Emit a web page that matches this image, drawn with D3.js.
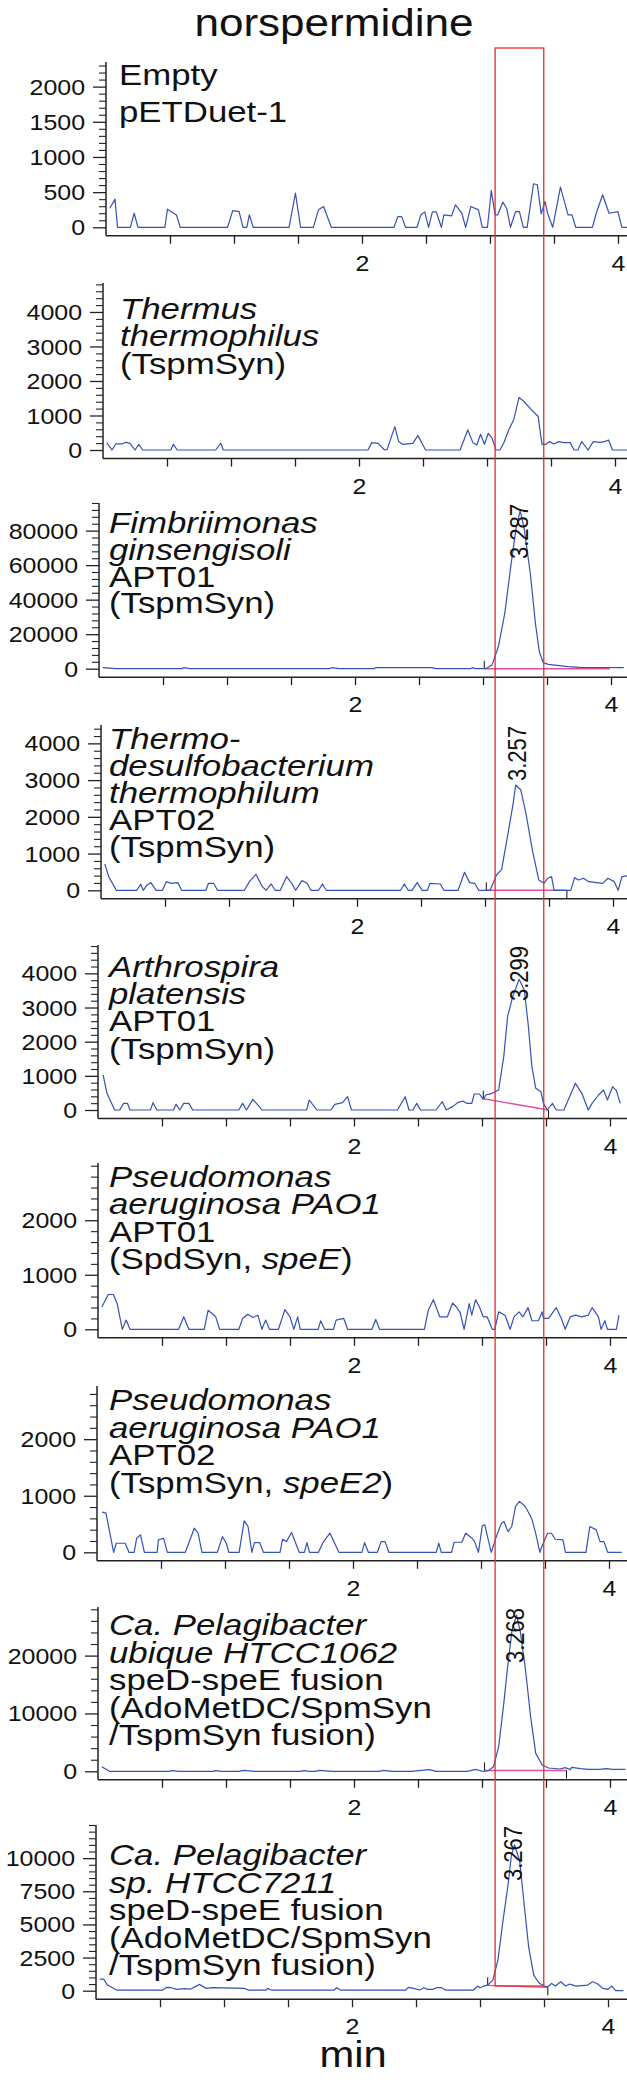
<!DOCTYPE html>
<html><head><meta charset="utf-8">
<script src="https://cdn.jsdelivr.net/npm/d3@7"></script>
<style>body{margin:0;background:#fff}svg{display:block}text{white-space:pre}</style>
</head><body><svg id="c" width="627" height="2084"></svg>
<script>
// ---------- data ----------
const title = "norspermidine";
const xLabel = "min";
const xTickValues = [0.5, 1, 1.5, 2, 2.5, 3, 3.5, 4];
const xTickLabelValues = [2, 4];
const highlightWindow = [3.04, 3.42]; // minutes, in panel-1 time scale

const yTicks1 = [0, 500, 1000, 1500, 2000];
const yTicks2 = [0, 1000, 2000, 3000, 4000];
const yTicks3 = [0, 20000, 40000, 60000, 80000];
const yTicks4 = [0, 1000, 2000, 3000, 4000];
const yTicks5 = [0, 1000, 2000, 3000, 4000];
const yTicks6 = [0, 1000, 2000];
const yTicks7 = [0, 1000, 2000];
const yTicks8 = [0, 10000, 20000];
const yTicks9 = [0, 2500, 5000, 7500, 10000];

const label1 = [[["Empty",0]],[["pETDuet-1",0]]];
const label2 = [[["Thermus",1]],[["thermophilus",1]],[["(TspmSyn)",0]]];
const label3 = [[["Fimbriimonas",1]],[["ginsengisoli",1]],[["APT01",0]],[["(TspmSyn)",0]]];
const label4 = [[["Thermo-",1]],[["desulfobacterium",1]],[["thermophilum",1]],[["APT02",0]],[["(TspmSyn)",0]]];
const label5 = [[["Arthrospira",1]],[["platensis",1]],[["APT01",0]],[["(TspmSyn)",0]]];
const label6 = [[["Pseudomonas",1]],[["aeruginosa PAO1",1]],[["APT01",0]],[["(SpdSyn, ",0],["speE",1],[")",0]]];
const label7 = [[["Pseudomonas",1]],[["aeruginosa PAO1",1]],[["APT02",0]],[["(TspmSyn, ",0],["speE2",1],[")",0]]];
const label8 = [[["Ca. Pelagibacter",1]],[["ubique HTCC1062",1]],[["speD-speE fusion",0]],[["(AdoMetDC/SpmSyn",0]],[["/TspmSyn fusion)",0]]];
const label9 = [[["Ca. Pelagibacter",1]],[["sp. HTCC7211",1]],[["speD-speE fusion",0]],[["(AdoMetDC/SpmSyn",0]],[["/TspmSyn fusion)",0]]];

const trace1 = [[0.03,270],[0.07,400],[0.09,0],[0.19,0],[0.22,200],[0.25,0],[0.46,0],[0.48,257],[0.55,176],[0.58,0],[0.95,0],[0.99,238],[1.04,224],[1.07,0],[1.10,0],[1.12,176],[1.15,0],[1.43,0],[1.48,485],[1.52,0],[1.62,0],[1.66,248],[1.70,295],[1.76,0],[2.25,0],[2.28,152],[2.31,152],[2.34,0],[2.43,0],[2.46,176],[2.49,219],[2.52,0],[2.55,219],[2.58,219],[2.62,0],[2.64,176],[2.70,162],[2.73,319],[2.78,200],[2.81,0],[2.85,295],[2.91,248],[2.94,0],[2.98,0],[3.01,524],[3.04,176],[3.06,176],[3.10,357],[3.13,271],[3.16,0],[3.20,224],[3.23,224],[3.26,0],[3.29,0],[3.34,619],[3.37,605],[3.40,190],[3.43,367],[3.45,200],[3.49,0],[3.55,571],[3.61,176],[3.64,176],[3.67,0],[3.80,0],[3.83,200],[3.88,462],[3.93,200],[4.00,224],[4.03,0],[4.10,0]];
const trace2 = [[0.03,213],[0.07,0],[0.10,175],[0.15,175],[0.18,223],[0.21,194],[0.25,0],[0.28,165],[0.31,0],[0.53,0],[0.55,165],[0.58,0],[0.88,0],[0.92,194],[0.94,0],[2.07,0],[2.10,213],[2.15,194],[2.20,0],[2.22,19],[2.28,679],[2.31,243],[2.34,165],[2.42,194],[2.46,417],[2.52,0],[2.79,0],[2.85,582],[2.89,213],[2.92,146],[2.95,456],[2.98,165],[3.01,485],[3.04,340],[3.07,0],[3.10,0],[3.13,194],[3.17,582],[3.21,892],[3.25,1523],[3.29,1406],[3.34,1193],[3.40,970],[3.41,679],[3.43,165],[3.46,165],[3.49,243],[3.52,175],[3.56,243],[3.60,213],[3.65,213],[3.68,0],[3.71,0],[3.74,243],[3.79,0],[3.83,243],[3.88,223],[3.92,243],[3.95,291],[3.98,0],[4.10,0]];
const trace3 = [[0.03,600],[0.13,0],[0.65,0],[0.66,600],[0.71,0],[1.80,0],[1.82,600],[1.87,0],[2.15,0],[2.16,600],[2.60,600],[2.63,0],[2.90,0],[2.92,600],[2.94,0],[3.02,0],[3.07,2100],[3.12,12700],[3.17,32000],[3.22,61000],[3.26,82000],[3.29,91500],[3.32,82000],[3.37,55000],[3.41,26000],[3.44,9800],[3.47,3500],[3.51,2500],[3.58,1900],[3.66,1150],[3.76,770],[4.10,600]];
const trace4 = [[0.03,717],[0.06,372],[0.12,0],[0.28,0],[0.31,163],[0.33,0],[0.36,145],[0.39,209],[0.43,0],[0.48,0],[0.51,236],[0.55,190],[0.60,209],[0.63,0],[0.82,0],[0.84,190],[0.88,190],[0.91,0],[1.12,0],[1.16,236],[1.21,435],[1.26,100],[1.29,0],[1.33,172],[1.36,0],[1.40,0],[1.45,372],[1.49,190],[1.52,0],[1.57,263],[1.61,190],[1.64,0],[1.70,0],[1.73,172],[1.76,0],[2.34,0],[2.37,172],[2.40,0],[2.43,0],[2.47,209],[2.51,0],[2.55,0],[2.57,190],[2.65,172],[2.68,0],[2.79,0],[2.84,490],[2.88,209],[2.92,190],[2.95,0],[3.04,0],[3.09,417],[3.13,571],[3.18,1551],[3.22,2367],[3.24,2866],[3.28,2730],[3.32,2095],[3.37,1097],[3.42,281],[3.46,190],[3.49,327],[3.52,372],[3.54,0],[3.67,0],[3.70,345],[3.73,281],[3.77,327],[3.81,236],[3.87,209],[3.92,190],[3.96,327],[4.01,236],[4.04,0],[4.07,372],[4.12,400]];
const trace5 = [[0.04,1025],[0.07,488],[0.13,0],[0.17,0],[0.20,195],[0.23,195],[0.25,0],[0.41,0],[0.43,215],[0.46,0],[0.59,0],[0.61,166],[0.64,0],[0.67,195],[0.71,195],[0.74,0],[1.10,0],[1.13,195],[1.16,0],[1.21,312],[1.26,98],[1.28,0],[1.63,0],[1.65,293],[1.69,98],[1.71,0],[1.82,0],[1.85,166],[1.91,215],[1.95,390],[1.98,0],[2.34,0],[2.40,390],[2.43,0],[2.46,0],[2.49,195],[2.52,0],[2.64,0],[2.69,244],[2.72,0],[2.77,98],[2.81,215],[2.85,264],[2.88,195],[2.92,195],[2.94,468],[2.98,468],[3.01,312],[3.03,439],[3.08,488],[3.13,585],[3.17,1561],[3.20,2733],[3.24,3318],[3.29,3826],[3.33,3513],[3.36,2538],[3.39,1269],[3.42,634],[3.46,537],[3.48,195],[3.51,0],[3.55,195],[3.58,0],[3.64,0],[3.73,781],[3.78,488],[3.83,0],[3.86,195],[3.91,439],[3.95,585],[3.98,293],[4.02,683],[4.05,566],[4.08,195]];
const trace6 = [[0.03,409],[0.08,638],[0.12,638],[0.15,470],[0.19,0],[0.22,169],[0.25,0],[0.63,0],[0.67,229],[0.71,0],[0.83,0],[0.86,349],[0.92,229],[0.95,0],[1.10,0],[1.13,199],[1.17,277],[1.21,217],[1.25,259],[1.28,0],[1.31,169],[1.34,0],[1.41,0],[1.46,361],[1.50,229],[1.53,0],[1.56,229],[1.58,0],[1.72,0],[1.74,157],[1.77,0],[1.84,0],[1.86,169],[1.92,199],[1.95,0],[2.14,0],[2.17,181],[2.20,0],[2.55,0],[2.58,349],[2.62,542],[2.67,229],[2.73,229],[2.77,482],[2.80,409],[2.83,301],[2.86,0],[2.90,470],[2.92,259],[2.95,542],[2.98,409],[3.01,229],[3.04,229],[3.08,0],[3.10,0],[3.13,319],[3.18,259],[3.22,0],[3.25,229],[3.29,319],[3.32,229],[3.36,397],[3.39,157],[3.44,157],[3.47,319],[3.48,199],[3.52,199],[3.58,397],[3.62,199],[3.65,0],[3.69,229],[3.73,259],[3.78,229],[3.83,259],[3.86,397],[3.91,229],[3.93,0],[3.96,157],[3.98,0],[4.05,0],[4.07,259]];
const trace7 = [[0.04,710],[0.07,693],[0.13,0],[0.15,160],[0.22,160],[0.25,0],[0.29,0],[0.31,249],[0.34,308],[0.37,0],[0.47,0],[0.48,219],[0.52,249],[0.55,0],[0.69,0],[0.76,426],[0.79,337],[0.82,0],[0.94,0],[0.98,278],[1.01,160],[1.03,0],[1.11,0],[1.15,556],[1.18,456],[1.21,0],[1.23,172],[1.27,172],[1.30,0],[1.43,0],[1.45,231],[1.48,189],[1.52,349],[1.55,172],[1.58,0],[1.62,0],[1.64,172],[1.66,0],[1.73,0],[1.77,189],[1.82,337],[1.89,0],[2.07,0],[2.09,172],[2.12,0],[2.19,0],[2.22,189],[2.25,189],[2.28,0],[2.65,0],[2.67,160],[2.69,0],[2.77,0],[2.79,178],[2.85,178],[2.88,337],[2.93,249],[2.95,189],[2.98,0],[3.01,468],[3.03,485],[3.06,189],[3.08,0],[3.12,278],[3.16,515],[3.18,545],[3.21,367],[3.24,456],[3.27,811],[3.30,900],[3.34,823],[3.36,752],[3.40,574],[3.43,308],[3.46,0],[3.48,130],[3.52,337],[3.55,337],[3.58,231],[3.64,219],[3.66,0],[3.82,0],[3.85,456],[3.90,397],[3.93,189],[3.96,189],[3.99,0],[4.10,0]];
const trace8 = [[0.03,800],[0.09,0],[0.55,0],[0.58,120],[0.63,0],[0.90,0],[0.92,120],[0.96,0],[1.10,0],[1.14,170],[1.23,0],[1.58,0],[1.61,120],[1.65,0],[1.70,0],[1.73,170],[1.83,0],[2.20,0],[2.23,170],[2.30,0],[2.45,0],[2.59,290],[2.64,0],[2.88,0],[2.91,120],[2.95,345],[3.00,0],[3.05,120],[3.09,800],[3.13,4250],[3.17,11700],[3.20,18000],[3.235,24500],[3.27,27000],[3.30,24000],[3.34,17500],[3.38,9400],[3.42,3100],[3.47,1100],[3.52,575],[3.61,400],[3.65,630],[3.69,290],[3.70,690],[3.77,460],[3.83,345],[3.92,345],[3.97,460],[4.02,345],[4.12,345]];
const trace9 = [[0.03,875],[0.06,875],[0.09,425],[0.16,50],[0.52,50],[0.55,250],[0.59,225],[0.63,100],[0.69,150],[0.74,125],[0.81,475],[0.86,175],[0.91,225],[1.16,175],[1.19,50],[1.33,50],[1.34,175],[1.37,50],[1.86,50],[1.88,225],[1.91,50],[2.42,50],[2.44,250],[2.48,175],[2.53,50],[2.56,225],[2.59,100],[2.63,100],[2.66,225],[2.70,225],[2.73,50],[2.95,50],[2.98,350],[3.00,225],[3.03,350],[3.06,425],[3.10,800],[3.14,2300],[3.18,5300],[3.22,8050],[3.245,10200],[3.27,11000],[3.31,9800],[3.35,6050],[3.38,3300],[3.42,1175],[3.46,600],[3.50,350],[3.53,300],[3.56,550],[3.59,350],[3.63,675],[3.67,350],[3.70,500],[3.75,350],[3.84,425],[3.88,675],[3.92,500],[3.96,175],[4.00,100],[4.03,350],[4.06,0],[4.12,0]];

// peak retention-time labels and integration baselines
const peakRT3 = "3.287", peakRT4 = "3.257", peakRT5 = "3.299", peakRT8 = "3.268", peakRT9 = "3.267";
const base3 = [[3.01,0],[3.99,0]];
const base4 = [[3.01,0],[3.64,0]];
const base5 = [[3.01,330],[3.52,0]];
const base8 = [[3.02,150],[3.66,150]];
const base9 = [[3.06,400],[3.53,250]];

// ---------- layout ----------
const panels = [
  {trace:trace1, label:label1, yTicks:yTicks1, minor:100,  yMax:2350,  axisX:106, zeroY:227.3,  topY:62,   lx:119, ly:85,   lh:37},
  {trace:trace2, label:label2, yTicks:yTicks2, minor:200,  yMax:4840,  axisX:103, zeroY:450,    topY:283,  lx:120, ly:319,  lh:27.4},
  {trace:trace3, label:label3, yTicks:yTicks3, minor:4000, yMax:96000, axisX:99,  zeroY:668.7,  topY:503,  lx:109, ly:533,  lh:26.8, rt:peakRT3, base:base3, marks:[[0,-1]]},
  {trace:trace4, label:label4, yTicks:yTicks4, minor:200,  yMax:4500,  axisX:101, zeroY:890.3,  topY:725,  lx:109, ly:749,  lh:27.1, rt:peakRT4, base:base4, marks:[[0,-1],[1,1]]},
  {trace:trace5, label:label5, yTicks:yTicks5, minor:200,  yMax:4830,  axisX:98,  zeroY:1110,   topY:945,  lx:109, ly:977,  lh:27.2, rt:peakRT5, base:base5, marks:[[0,-1],[1,1]]},
  {trace:trace6, label:label6, yTicks:yTicks6, minor:200,  yMax:3050,  axisX:98,  zeroY:1329.3, topY:1163, lx:109, ly:1187, lh:27.4},
  {trace:trace7, label:label7, yTicks:yTicks7, minor:200,  yMax:2940,  axisX:97,  zeroY:1552.3, topY:1386, lx:109, ly:1410, lh:27.7},
  {trace:trace8, label:label8, yTicks:yTicks8, minor:2000, yMax:28400, axisX:98,  zeroY:1771.3, topY:1607, lx:109, ly:1635, lh:27.5, rt:peakRT8, base:base8, marks:[[0,-1],[1,1]]},
  {trace:trace9, label:label9, yTicks:yTicks9, minor:500,  yMax:12500, axisX:96,  zeroY:1990.7, topY:1825, lx:109, ly:1865, lh:27.5, rt:peakRT9, base:base9, marks:[[0,-1],[1,1]]}
];

const SX = 1.16;
const FONT = "'Liberation Sans', Arial, Helvetica, sans-serif";
const AX = "#222";
const BLUE = "#3552b6";
const PINK = "#e0509a";
const RED = "#ec2a2a";
const PXMIN = 128;

const svg = d3.select("#c");

function text(g, x, y, size, s, anchor) {
  return g.append("text")
    .attr("transform", `translate(${x},${y}) scale(${SX},1)`)
    .attr("font-family", FONT).attr("font-size", size)
    .attr("text-anchor", anchor || "start").attr("fill", "#111").text(s);
}

// title
text(svg, 334, 36, 38, title, "middle");

let firstX = null;
panels.forEach((p, i) => {
  const g = svg.append("g");
  const x = d3.scaleLinear().domain([0, 4]).range([p.axisX, p.axisX + 4 * PXMIN]);
  const y = d3.scaleLinear().domain([0, p.yMax]).range([p.zeroY, p.topY]);
  if (i === 0) firstX = x;
  const axisY = p.zeroY + 8.5;

  // minor y ticks
  const minorVals = d3.range(0, p.yMax + 1, p.minor).filter(v => !p.yTicks.includes(v));
  g.append("g").attr("transform", `translate(${p.axisX},0)`)
    .call(d3.axisLeft(y).tickValues(minorVals).tickSize(7).tickFormat(""))
    .call(a => a.select(".domain").remove())
    .call(a => a.selectAll("line").attr("stroke", AX).attr("stroke-width", 1.1));

  // major y ticks + labels
  g.append("g").attr("transform", `translate(${p.axisX},0)`)
    .call(d3.axisLeft(y).tickValues(p.yTicks).tickSize(13).tickFormat(d3.format("d")))
    .call(a => a.select(".domain").remove())
    .call(a => a.selectAll("line").attr("stroke", AX).attr("stroke-width", 1.3))
    .call(a => a.selectAll("text")
      .attr("x", null).attr("dy", "0.35em")
      .attr("transform", `translate(-21,0) scale(${SX},1)`)
      .attr("font-family", FONT).attr("font-size", 21.5).attr("fill", "#111"));

  // x axis
  g.append("g").attr("transform", `translate(0,${axisY})`)
    .call(d3.axisBottom(x).tickValues(xTickValues).tickSize(8)
      .tickFormat(d => xTickLabelValues.includes(d) ? String(d) : ""))
    .call(a => a.select(".domain").remove())
    .call(a => a.selectAll("line").attr("stroke", AX).attr("stroke-width", 1.3))
    .call(a => a.selectAll("text")
      .attr("y", null).attr("dy", null)
      .attr("transform", `translate(0,35) scale(${SX},1)`)
      .attr("font-family", FONT).attr("font-size", 21.5).attr("fill", "#111"));

  // axis lines
  g.append("line").attr("x1", p.axisX).attr("x2", p.axisX).attr("y1", p.topY).attr("y2", axisY)
    .attr("stroke", AX).attr("stroke-width", 1.5);
  g.append("line").attr("x1", p.axisX).attr("x2", 627).attr("y1", axisY).attr("y2", axisY)
    .attr("stroke", AX).attr("stroke-width", 1.5);

  // integration baseline
  if (p.base) {
    g.append("path").datum(p.base)
      .attr("d", d3.line().x(d => x(d[0])).y(d => y(d[1])))
      .attr("fill", "none").attr("stroke", PINK).attr("stroke-width", 1.4);
    p.marks.forEach(([k, dir]) => {
      const b = p.base[k];
      g.append("line").attr("x1", x(b[0])).attr("x2", x(b[0]))
        .attr("y1", y(b[1])).attr("y2", y(b[1]) + dir * 8)
        .attr("stroke", "#111").attr("stroke-width", 1);
    });
  }

  // trace
  g.append("path").datum(p.trace)
    .attr("d", d3.line().x(d => x(d[0])).y(d => y(d[1])))
    .attr("fill", "none").attr("stroke", BLUE).attr("stroke-width", 1.2)
    .attr("stroke-linejoin", "round");

  // retention time label
  if (p.rt) {
    g.append("text")
      .attr("transform", `translate(${x(+p.rt) + 8},${p.topY + 1}) scale(${SX},1) rotate(-90)`)
      .attr("font-family", FONT).attr("font-size", 22).attr("text-anchor", "end")
      .attr("fill", "#111").text(p.rt);
  }

  // sample label
  p.label.forEach((line, j) => {
    const t = g.append("text")
      .attr("transform", `translate(${p.lx},${p.ly + j * p.lh}) scale(${SX},1)`)
      .attr("font-family", FONT).attr("font-size", 30).attr("fill", "#111");
    line.forEach(([s, it]) => t.append("tspan").attr("font-style", it ? "italic" : "normal").text(s));
  });
});

// highlight window
svg.append("rect")
  .attr("x", firstX(highlightWindow[0])).attr("y", 48)
  .attr("width", firstX(highlightWindow[1]) - firstX(highlightWindow[0]))
  .attr("height", 1986 - 48)
  .attr("fill", "none").attr("stroke", RED).attr("stroke-width", 1.3);

// x label
text(svg, 353, 2067, 36, xLabel, "middle");
</script></body></html>
